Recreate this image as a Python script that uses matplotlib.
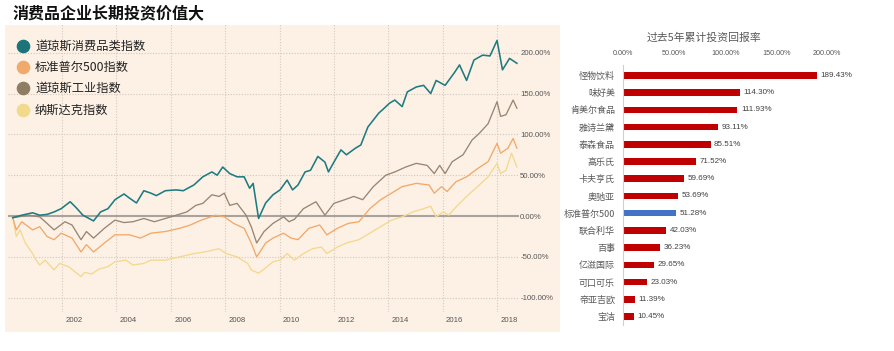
import matplotlib
matplotlib.use("Agg")
import matplotlib.pyplot as plt
from matplotlib.patches import Rectangle
from matplotlib.lines import Line2D
from matplotlib.transforms import ScaledTranslation

plt.rcParams['font.family'] = ['Liberation Sans', 'Noto Sans CJK SC', 'DejaVu Sans']
CJK = ['Noto Sans CJK SC', 'DejaVu Sans']

# ---------------- data: left chart ----------------
consumer_years = [2000.19, 2000.52, 2000.92, 2001.18, 2001.45, 2001.71, 2001.97, 2002.30, 2002.50, 2002.77,
                  2003.16, 2003.42, 2003.69, 2003.95, 2004.28, 2004.48, 2004.74, 2005.01, 2005.27, 2005.47,
                  2005.80, 2006.20, 2006.46, 2006.85, 2007.18, 2007.51, 2007.71, 2007.91, 2008.17, 2008.44,
                  2008.70, 2008.90, 2009.03, 2009.23, 2009.49, 2009.76, 2010.02, 2010.28, 2010.48, 2010.68,
                  2010.94, 2011.14, 2011.41, 2011.67, 2011.80, 2012.00, 2012.26, 2012.46, 2012.79, 2012.99,
                  2013.25, 2013.45, 2013.65, 2013.85, 2014.04, 2014.24, 2014.51, 2014.70, 2015.03, 2015.30,
                  2015.56, 2015.76, 2016.09, 2016.42, 2016.62, 2016.88, 2017.15, 2017.47, 2017.74, 2018.00,
                  2018.20, 2018.46, 2018.73]
consumer_vals = [-2, 1, 4, 1, 2, 5, 9, 17.5, 11, 1,
                 -6, 5, 9, 20, 27, 22, 16, 31, 28, 25,
                 31, 32, 31, 38, 48, 54, 50, 60, 52, 48,
                 48, 34, 40, -3, 16, 26, 32, 44, 32, 38,
                 54, 56, 73, 66, 54, 66, 81, 75, 83, 87,
                 109, 117.5, 126, 132, 138, 142, 134, 152, 158, 160,
                 150, 166, 160, 175, 185, 166, 191, 197, 196, 215,
                 179, 193, 187]

industrial_years = [2000.19, 2000.79, 2001.18, 2001.45, 2001.71, 2002.11, 2002.37, 2002.70, 2002.90, 2003.16,
                    2003.56, 2003.95, 2004.28, 2004.61, 2005.01, 2005.40, 2005.80, 2006.20, 2006.59, 2006.92,
                    2007.18, 2007.51, 2007.78, 2007.97, 2008.17, 2008.44, 2008.77, 2008.96, 2009.16, 2009.43,
                    2009.76, 2010.15, 2010.35, 2010.55, 2010.88, 2011.34, 2011.67, 2012.00, 2012.40, 2012.73,
                    2013.06, 2013.45, 2013.91, 2014.24, 2014.64, 2015.03, 2015.43, 2015.69, 2015.89, 2016.09,
                    2016.35, 2016.75, 2017.08, 2017.34, 2017.67, 2018.00, 2018.13, 2018.33, 2018.59, 2018.73]
industrial_vals = [-2, 1, -1, -9, -17, -7, -11, -29, -19, -27,
                   -15, -5, -8, -7, -3, -7, -3, 1, 5, 13,
                   15.5, 26, 24, 28, 13, 15.5, 1, -13, -33, -19,
                   -9, -1, -7, -4, 9, 17.5, 1, 15.5, 20, 24,
                   20, 36, 50, 54, 60, 64.5, 62, 52, 62, 52,
                   66.5, 75, 93, 101, 113, 140, 122, 124, 142, 132]

sp500_years = [2000.19, 2000.32, 2000.52, 2000.92, 2001.18, 2001.45, 2001.71, 2001.97, 2002.37, 2002.70,
               2002.90, 2003.16, 2003.56, 2003.95, 2004.48, 2004.88, 2005.27, 2005.80, 2006.33, 2006.72,
               2007.12, 2007.65, 2007.97, 2008.31, 2008.70, 2008.96, 2009.16, 2009.49, 2009.76, 2010.15,
               2010.42, 2010.68, 2011.08, 2011.48, 2011.74, 2012.13, 2012.53, 2012.92, 2013.32, 2013.72,
               2014.12, 2014.51, 2015.03, 2015.50, 2015.69, 2015.96, 2016.16, 2016.49, 2016.88, 2017.28,
               2017.67, 2018.00, 2018.13, 2018.40, 2018.59, 2018.73]
sp500_vals = [-2, -17, -7, -17, -13, -25, -29, -21, -27, -44,
              -35, -44, -33, -23, -23, -27, -21, -19, -15, -11,
              -5, 1, -1, -9, -15, -33, -50, -33, -27, -21,
              -27, -29, -15, -11, -23, -15, -9, -7, 9, 20,
              28, 36, 40, 38, 28, 36, 30, 42, 48, 58,
              66.5, 89, 77, 83, 95, 83]

nasdaq_years = [2000.19, 2000.32, 2000.46, 2000.65, 2000.92, 2001.05, 2001.18, 2001.38, 2001.71, 2001.91,
                2002.24, 2002.70, 2002.83, 2003.09, 2003.36, 2003.69, 2003.95, 2004.35, 2004.61, 2005.01,
                2005.27, 2005.80, 2006.33, 2006.85, 2007.25, 2007.78, 2008.04, 2008.44, 2008.83, 2008.96,
                2009.23, 2009.43, 2009.76, 2010.02, 2010.28, 2010.55, 2010.88, 2011.21, 2011.54, 2011.74,
                2012.13, 2012.46, 2012.92, 2013.32, 2013.72, 2014.12, 2014.51, 2014.90, 2015.30, 2015.56,
                2015.76, 2016.02, 2016.22, 2016.49, 2016.88, 2017.28, 2017.67, 2018.00, 2018.13, 2018.33,
                2018.53, 2018.73]
nasdaq_vals = [-2, -25, -17, -33, -46, -54, -60, -54, -66, -58,
               -62, -74, -69, -71, -65, -62, -56, -54, -60, -58,
               -54, -54, -50, -46, -44, -40, -46, -50, -58, -66,
               -70, -65, -56, -54, -46, -54, -46, -40, -38, -46,
               -38, -33, -29, -21, -13, -5, -1, 5, 9, 12,
               -1, 5, 1, 11, 24, 36, 48, 64.5, 52, 56,
               77, 60]

series_names = ['道琼斯消费品类指数', '标准普尔500指数', '道琼斯工业指数', '纳斯达克指数']
series_colors = ['#1E7B80', '#F2A868', '#978673', '#F4D88E']
legend_colors = ['#1B7479', '#F0AA6C', '#8F7D63', '#F2DA8C']

x_tick_years = [2002, 2004, 2006, 2008, 2010, 2012, 2014, 2016, 2018]
y_ticks = [-100, -50, 0, 50, 100, 150, 200]

# ---------------- data: right chart ----------------
companies = ['怪物饮料', '味好美', '肯美尔食品', '雅诗兰黛', '泰森食品', '高乐氏', '卡夫亨氏', '奥驰亚',
             '标准普尔500', '联合利华', '百事', '亿滋国际', '可口可乐', '帝亚吉欧', '宝洁']
returns = [189.43, 114.30, 111.93, 93.11, 85.51, 71.52, 59.69, 53.69, 51.28, 42.03, 36.23, 29.65, 23.03, 11.39, 10.45]
bar_ticks = [0, 50, 100, 150, 200]

W, H = 894, 351
fig = plt.figure(figsize=(W / 100, H / 100), dpi=100)
fig.patch.set_facecolor('white')

def fx(px):
    return px / W

def fy(py):
    return 1 - py / H

# left panel background
fig.patches.append(Rectangle((fx(5), fy(332)), fx(560) - fx(5), fy(25) - fy(332),
                             transform=fig.transFigure, facecolor='#FDF1E6', edgecolor='none', zorder=-10))

fig.text(fx(13), fy(13), '消费品企业长期投资价值大', family=CJK, fontsize=11.5, fontweight='bold',
         color='#111111', va='center', ha='left')

# ---------------- left chart ----------------
ax_l, ax_r = 7.6, 518.8
ax_t, ax_b = 24.1, 312.4
ax = fig.add_axes([fx(ax_l), fy(ax_b), fx(ax_r) - fx(ax_l), fy(ax_t) - fy(ax_b)])
ax.set_facecolor('none')
ax.set_xlim(2000.0, 2018.8)
ax.set_ylim(-118, 235)

for yv in y_ticks:
    if yv != 0:
        ax.axhline(yv, color='#CFC6BC', lw=0.8, ls=(0, (1, 1.5)), zorder=1)
for xv in x_tick_years:
    ax.axvline(xv, color='#D3CAC0', lw=0.8, ls=(0, (1, 1.5)), zorder=1)
ax.axhline(0, color='#A8A39E', lw=1.5, zorder=1.5)

data = [(consumer_years, consumer_vals), (sp500_years, sp500_vals),
        (industrial_years, industrial_vals), (nasdaq_years, nasdaq_vals)]
z = {3: 2, 1: 3, 2: 4, 0: 5}
for i in [3, 1, 2, 0]:
    xs, ys = data[i]
    ax.plot(xs, ys, color=series_colors[i], lw=1.15 if i == 0 else 0.95, zorder=z[i])

for s in ax.spines.values():
    s.set_visible(False)
ax.yaxis.tick_right()
ax.set_yticks(y_ticks)
ax.set_yticklabels([f'{v:.2f}%' for v in y_ticks])
ax.tick_params(axis='y', length=0, pad=1, labelsize=5.6, labelcolor='#555555')
ax.set_xticks(x_tick_years)
ax.set_xticklabels([str(v) for v in x_tick_years])
ax.tick_params(axis='x', length=0, pad=3, labelsize=5.6, labelcolor='#555555')
offset = ScaledTranslation(12 / 100, 0, fig.dpi_scale_trans)
for lab in ax.get_xticklabels():
    lab.set_transform(lab.get_transform() + offset)

# legend
legend_y = [46, 67, 88, 110]
for name, col, ly in zip(series_names, legend_colors, legend_y):
    fig.add_artist(Line2D([fx(23)], [fy(ly)], marker='o', markersize=8.8, color=col,
                          markeredgecolor=col, transform=fig.transFigure))
    fig.text(fx(35), fy(ly), name, family=CJK, fontsize=8.8, color='#222222', va='center', ha='left')

# ---------------- right chart ----------------
row0, step = 75.3, 17.24
b_left = 623.3
b_px_per = 1.02
b_top = row0 - 0.6 * step
b_bot = row0 + 14.5 * step
bx = fig.add_axes([fx(b_left), fy(b_bot), fx(b_left + 240 * b_px_per) - fx(b_left), fy(b_top) - fy(b_bot)])
bx.set_xlim(0, 240)
bx.set_ylim(14.5, -0.6)
colors = ['#4472C4' if c == '标准普尔500' else '#C00000' for c in companies]
ypos = list(range(len(companies)))
bx.barh(ypos, returns, height=0.38, color=colors, zorder=2)
for yv, v in zip(ypos, returns):
    bx.text(v + 3.5, yv, f'{v:.2f}%', fontsize=5.8, color='#404040', va='center', ha='left')
for s in ['top', 'right', 'bottom']:
    bx.spines[s].set_visible(False)
bx.spines['left'].set_color('#D0D0D0')
bx.spines['left'].set_linewidth(0.8)
bx.set_yticks(ypos)
bx.set_yticklabels(companies, family=CJK)
bx.tick_params(axis='y', length=0, pad=6, labelsize=6.5, labelcolor='#595959')
bx.xaxis.tick_top()
bx.set_xticks(bar_ticks)
bx.set_xticklabels([f'{v:.2f}%' for v in bar_ticks])
bx.tick_params(axis='x', length=0, pad=6, labelsize=5.2, labelcolor='#595959')
bx.set_facecolor('none')

fig.text(fx(704), fy(38), '过去5年累计投资回报率', family=CJK, fontsize=7.8, color='#595959',
         va='center', ha='center')

fig.savefig('out.png', dpi=100, facecolor='white')
